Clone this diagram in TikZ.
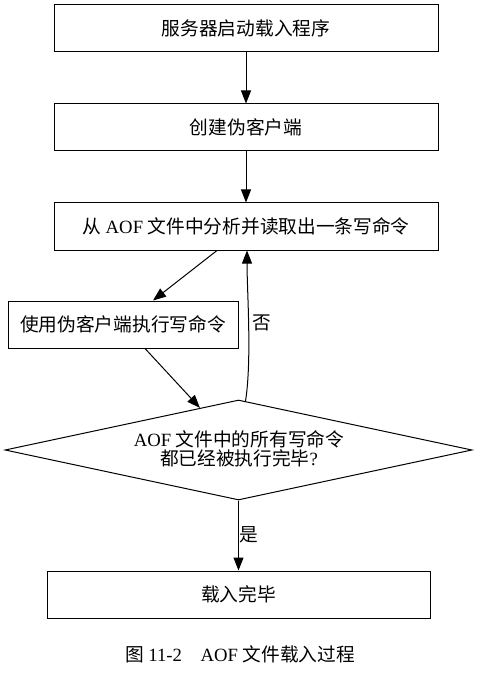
\documentclass[tikz,border=0pt]{standalone}
\usepackage{fontspec}
\setmainfont{Noto Sans CJK SC}
\newfontfamily\latfont{Liberation Serif}
\newcommand{\lat}[1]{{\latfont #1}}
\usetikzlibrary{shapes.geometric,arrows.meta,calc}
\begin{document}
\begin{tikzpicture}[x=1pt,y=-1pt,
  every node/.style={font=\fontsize{18.7}{19}\selectfont},
  box/.style={draw,line width=1pt,minimum height=47pt,inner sep=0pt},
  arr/.style={line width=1pt,-{Triangle[length=13pt,width=10pt]}},
  lbl/.style={inner sep=0pt}]
\useasboundingbox (0,0) rectangle (477,676);
\node[box,minimum width=384pt] (b1) at (246,28.5) {服务器启动载入程序};
\node[box,minimum width=384pt] (b2) at (246,127.5) {创建伪客户端};
\node[box,minimum width=384pt] (b3) at (246,226.5) {从\lat{ AOF }文件中分析并读取出一条写命令};
\node[box,minimum width=230pt] (b4) at (123,324.5) {使用伪客户端执行写命令};
\node[diamond,draw,line width=1pt,aspect=4.67,minimum width=467pt,minimum height=100pt,inner sep=0pt] (d) at (238.5,450) {};
\node[align=center,inner sep=0pt] (dt) at (239,449) {\lat{AOF }文件中的所有写命令\\都已经被执行完毕\lat{?}};
\node[box,minimum width=383pt] (b5) at (238.5,594.5) {载入完毕};
\node[lbl] (cap) at (240,654) {图\lat{ 11-2\quad AOF }文件载入过程};
\draw[arr] (b1.south) -- (b2.north);
\draw[arr] (b2.south) -- (b3.north);
\draw[arr] ([xshift=-29pt]b3.south) -- ([xshift=30pt]b4.north);
\draw[arr] ([xshift=22pt]b4.south) -- ($(d.north)!0.165!(d.west)$);
\draw[arr] ($(d.north)!0.03!(d.east)$) .. controls (252,360) and (247,290) .. ([xshift=1pt]b3.south);
\node[lbl] (no) at (262,323) {否};
\draw[arr] (d.south) -- (b5.north);
\node[lbl] (yes) at (249,535) {是};
\end{tikzpicture}
\end{document}
